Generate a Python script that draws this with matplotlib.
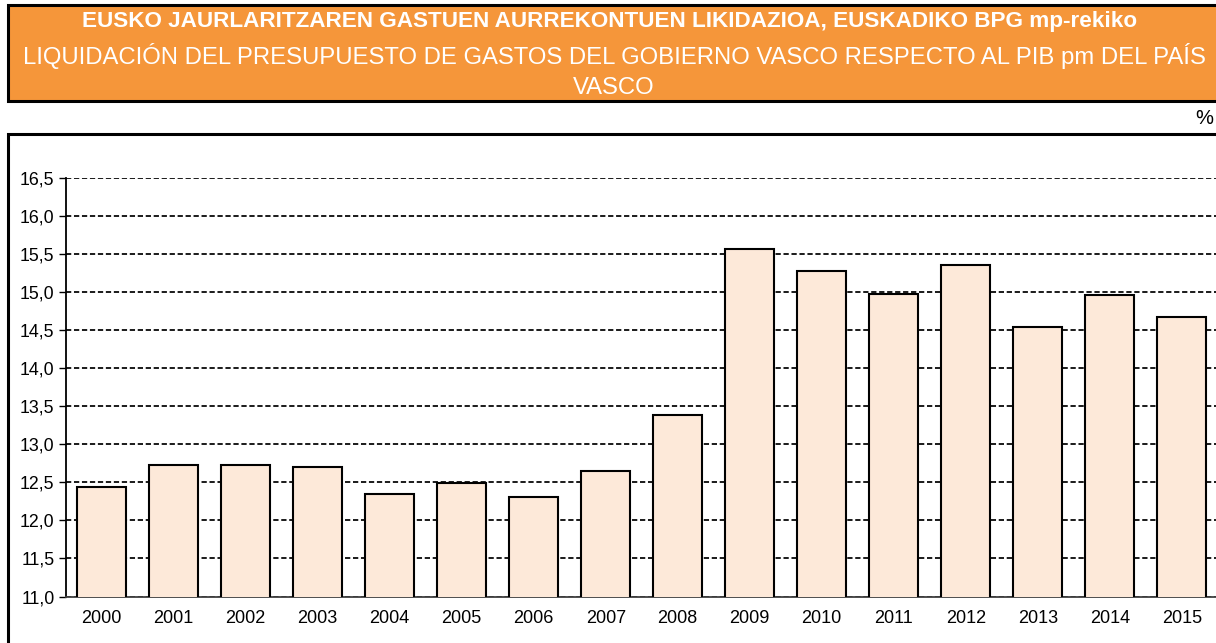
import matplotlib
matplotlib.use("Agg")
import matplotlib.pyplot as plt
from matplotlib.patches import Rectangle

years = ["2000", "2001", "2002", "2003", "2004", "2005", "2006", "2007",
         "2008", "2009", "2010", "2011", "2012", "2013", "2014", "2015"]
values = [12.44, 12.73, 12.73, 12.70, 12.34, 12.49, 12.31, 12.65,
          13.38, 15.57, 15.28, 14.97, 15.36, 14.54, 14.96, 14.67]
yticks = [11.0, 11.5, 12.0, 12.5, 13.0, 13.5, 14.0, 14.5, 15.0, 15.5, 16.0, 16.5]

title_eu = "EUSKO JAURLARITZAREN GASTUEN AURREKONTUEN LIKIDAZIOA, EUSKADIKO BPG mp-rekiko"
title_es1 = "LIQUIDACIÓN DEL PRESUPUESTO DE GASTOS DEL GOBIERNO VASCO RESPECTO AL PIB pm DEL PAÍS"
title_es2 = "VASCO"

plt.rcParams["font.family"] = ["Liberation Sans", "DejaVu Sans"]

W, H = 1216, 643
fig = plt.figure(figsize=(W / 100, H / 100), dpi=100)

# orange title box
fig.patches.append(Rectangle((8 / W, 1 - 101 / H), 1.1, 96 / H, transform=fig.transFigure,
                             facecolor="#F5963A", edgecolor="black", linewidth=2.2, zorder=-1))
fig.text(610 / W, 1 - 21 / H, title_eu, ha="center", va="center", color="white",
         fontsize=16.2, fontweight="bold")
fig.text(614 / W, 1 - 56 / H, title_es1, ha="center", va="center", color="white",
         fontsize=17.2)
fig.text(614 / W, 1 - 88 / H, title_es2, ha="center", va="center", color="white",
         fontsize=17.2)

fig.text(1213 / W, 1 - 119 / H, "%", ha="right", va="center", fontsize=14.5)

# chart frame
fig.patches.append(Rectangle((8 / W, -0.1), 1.1, (H - 134) / H + 0.1, transform=fig.transFigure,
                             facecolor="white", edgecolor="black", linewidth=2.2, zorder=-1))

ax = fig.add_axes([65.7 / W, 1 - 596.5 / H, 1152 / W, (596.5 - 177.7) / H])
ax.set_facecolor("none")
x = range(len(years))
ax.bar(x, values, width=0.68, color="#FDE9D9", edgecolor="black", linewidth=1.5, zorder=3)
ax.set_xlim(-0.5, len(years) - 0.5)
ax.set_ylim(11, 16.5)
ax.set_yticks(yticks)
ax.set_yticklabels([f"{v:.1f}".replace(".", ",") for v in yticks], fontsize=12.8)
ax.set_xticks(list(x))
ax.set_xticklabels(years, fontsize=13)
ax.tick_params(axis="x", length=0, pad=9.5)
ax.tick_params(axis="y", length=5, width=1, direction="out", pad=3)
ax.yaxis.grid(True, linestyle=(0, (2.7, 1.4)), color="#1a1a1a", linewidth=1.4, zorder=1)
for s in ["top", "right"]:
    ax.spines[s].set_visible(False)
ax.spines["left"].set_linewidth(1.3)
ax.spines["bottom"].set_linewidth(1.3)
ax.spines["bottom"].set_color("#404040")

fig.savefig("out.png", dpi=100)
